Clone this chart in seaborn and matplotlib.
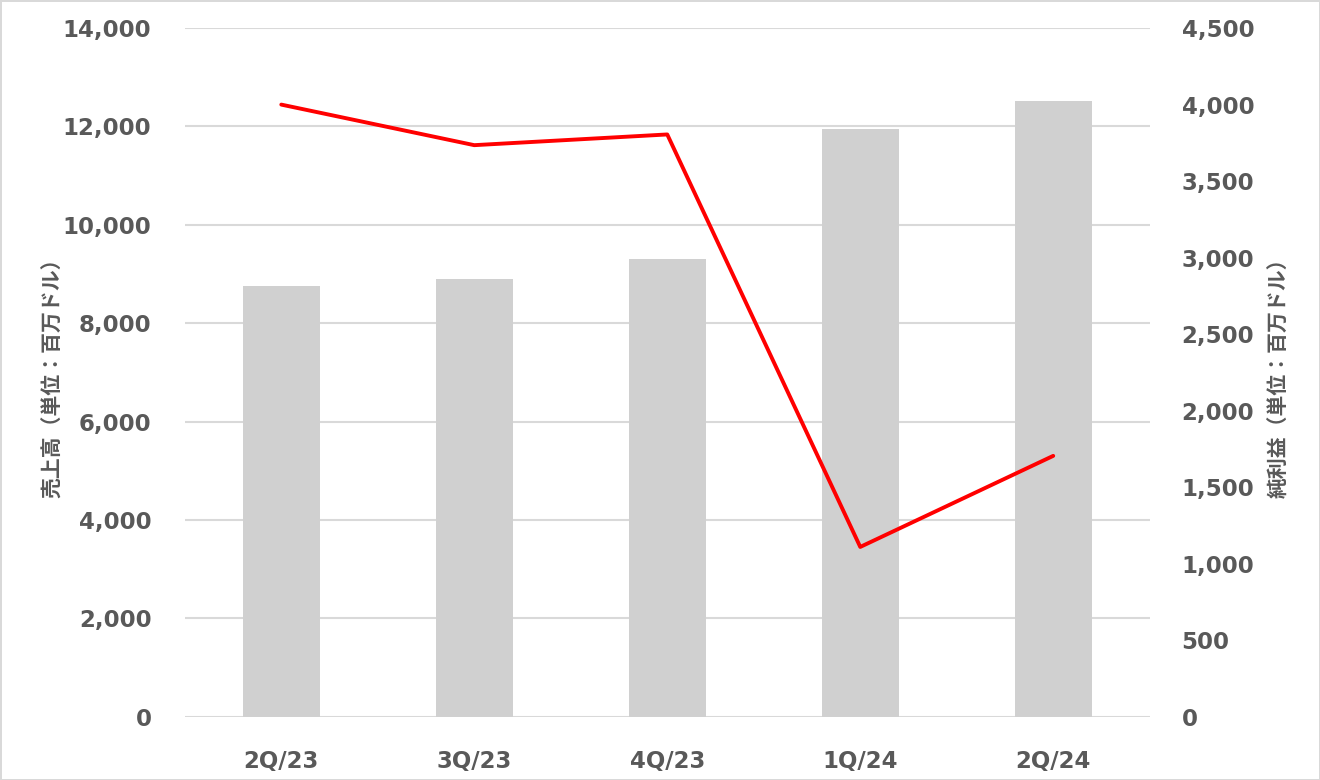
import matplotlib

matplotlib.use("Agg")
import matplotlib.pyplot as plt
import pandas as pd
import seaborn as sns
from matplotlib.ticker import FuncFormatter, MultipleLocator

# quarterly revenue (bars, left axis) and net income (line, right axis), USD millions
quarters = ["2Q/23", "3Q/23", "4Q/23", "1Q/24", "2Q/24"]
sales = [8760, 8900, 9310, 11950, 12520]
net_income = [4000, 3735, 3805, 1110, 1705]

sales_label = "売上高（単位：百万ドル）"
income_label = "純利益（単位：百万ドル）"

TEXT = "#595959"
GRID = "#d9d9d9"
BAR = "#d0d0d0"

df = pd.DataFrame({"quarter": quarters, "sales": sales, "net_income": net_income})

sns.set_theme(style="white")
plt.rcParams["font.family"] = ["DejaVu Sans"]

fig = plt.figure(figsize=(13.2, 7.8), dpi=100)
fig.patch.set_edgecolor(GRID)
fig.patch.set_linewidth(2)
ax = fig.add_axes([0.140, 0.081, 0.731, 0.883])

sns.barplot(data=df, x="quarter", y="sales", color=BAR, width=0.4,
            saturation=1, linewidth=0, ax=ax, zorder=2)
ax.set_ylim(0, 14000)
ax.yaxis.set_major_locator(MultipleLocator(2000))
ax.grid(axis="y", color=GRID, linewidth=1.5)
ax.grid(axis="x", visible=False)
ax.set_axisbelow(True)

ax2 = ax.twinx()
sns.pointplot(data=df, x="quarter", y="net_income", color="red", marker="",
              linewidth=2.8, errorbar=None, ax=ax2)
ax2.set_ylim(0, 4500)
ax2.yaxis.set_major_locator(MultipleLocator(500))
ax2.grid(False)
ax.set_xlim(-0.5, len(quarters) - 0.5)
ax2.set_xlim(-0.5, len(quarters) - 0.5)

thousands = FuncFormatter(lambda v, _: f"{v:,.0f}")
for a in (ax, ax2):
    a.yaxis.set_major_formatter(thousands)
    for s in a.spines.values():
        s.set_visible(False)
    a.tick_params(length=0, labelsize=16.5, labelcolor=TEXT)
    for t in a.get_xticklabels() + a.get_yticklabels():
        t.set_fontweight("bold")

ax.tick_params(axis="y", pad=24)
ax2.tick_params(axis="y", pad=23)
ax.tick_params(axis="x", pad=24)
ax.set_xlabel("")
ax2.set_xlabel("")

cjk = ["Noto Sans CJK JP", "DejaVu Sans"]
ax.set_ylabel(sales_label, family=cjk, fontsize=15, fontweight="bold",
              color=TEXT, labelpad=0)
ax2.set_ylabel(income_label, family=cjk, fontsize=15, fontweight="bold",
               color=TEXT, rotation=90, labelpad=10)

fig.savefig("out.png", dpi=100, edgecolor=fig.get_edgecolor())
